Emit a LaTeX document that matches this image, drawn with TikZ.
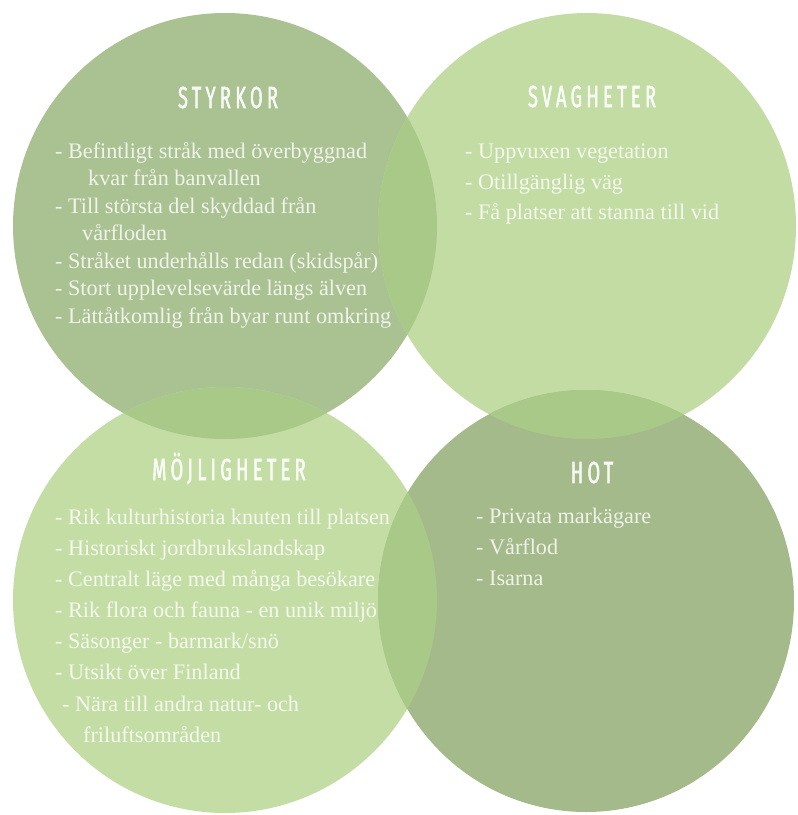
\documentclass[tikz,border=0pt]{standalone}
\usepackage{fontspec}
\setmainfont{Liberation Serif}
\newfontfamily\titlefont[FakeStretch=0.6,LetterSpace=14,FakeBold=1.6]{Fira Sans}
\definecolor{cTL}{HTML}{AAC192}
\definecolor{cTR}{HTML}{C3DCA4}
\definecolor{cBL}{HTML}{C4DDA5}
\definecolor{cBR}{HTML}{A4BA8A}
\definecolor{cLens}{HTML}{A9C988}
\begin{document}
\begin{tikzpicture}[x=1pt,y=-1pt,
  itm/.style={anchor=base west, inner sep=0pt, text=white, text opacity=0.82,
    font=\fontsize{22.2}{26}\selectfont},
  ttl/.style={anchor=base, inner sep=0pt, text=white, text opacity=0.9,
    font=\titlefont\fontsize{30.5}{33}\selectfont}]
\useasboundingbox (0,0) rectangle (798,815);
% circles
\def\pTL{(225,226) ellipse [x radius=212, y radius=213]}
\def\pTR{(587,226) ellipse [x radius=209, y radius=213]}
\def\pBL{(225,600) ellipse [x radius=212, y radius=213]}
\def\pBR{(586,601) ellipse [x radius=208, y radius=211]}
\fill[cTL] \pTL;
\fill[cTR] \pTR;
\fill[cBL] \pBL;
\fill[cBR] \pBR;
% overlaps
\begin{scope}\clip \pTL; \fill[cLens] \pTR; \end{scope}
\begin{scope}\clip \pTL; \fill[cLens] \pBL; \end{scope}
\begin{scope}\clip \pTR; \fill[cLens] \pBR; \end{scope}
\begin{scope}\clip \pBL; \fill[cLens] \pBR; \end{scope}
% titles
\node[ttl] (tS) at (228,108) {STYRKOR};
\node[ttl] (tW) at (592,107) {SVAGHETER};
\node[ttl] (tO) at (229,480) {MÖJLIGHETER};
\node[ttl] (tT) at (592,483) {HOT};
% STYRKOR
\node[itm] (s1) at (55,158) {- Befintligt stråk med överbyggnad};
\node[itm] (s1b) at (88,185) {kvar från banvallen};
\node[itm] (s2) at (55,213) {- Till största del skyddad från};
\node[itm] (s2b) at (82,240) {vårfloden};
\node[itm] (s3) at (55,268) {- Stråket underhålls redan (skidspår)};
\node[itm] (s4) at (55,295) {- Stort upplevelsevärde längs älven};
\node[itm] (s5) at (55,323) {- Lättåtkomlig från byar runt omkring};
% SVAGHETER
\node[itm] (w1) at (465,158) {- Uppvuxen vegetation};
\node[itm] (w2) at (465,189) {- Otillgänglig väg};
\node[itm] (w3) at (465,219) {- Få platser att stanna till vid};
% MÖJLIGHETER
\node[itm] (o1) at (55,524) {- Rik kulturhistoria knuten till platsen};
\node[itm] (o2) at (55,555) {- Historiskt jordbrukslandskap};
\node[itm] (o3) at (55,586) {- Centralt läge med många besökare};
\node[itm] (o4) at (55,617) {- Rik flora och fauna - en unik miljö};
\node[itm] (o5) at (55,648) {- Säsonger - barmark/snö};
\node[itm] (o6) at (55,679) {- Utsikt över Finland};
\node[itm] (o7) at (62,711) {- Nära till andra natur- och};
\node[itm] (o7b) at (83,742) {friluftsområden};
% HOT
\node[itm] (h1) at (476,523) {- Privata markägare};
\node[itm] (h2) at (476,554) {- Vårflod};
\node[itm] (h3) at (476,585) {- Isarna};
\end{tikzpicture}
\end{document}
